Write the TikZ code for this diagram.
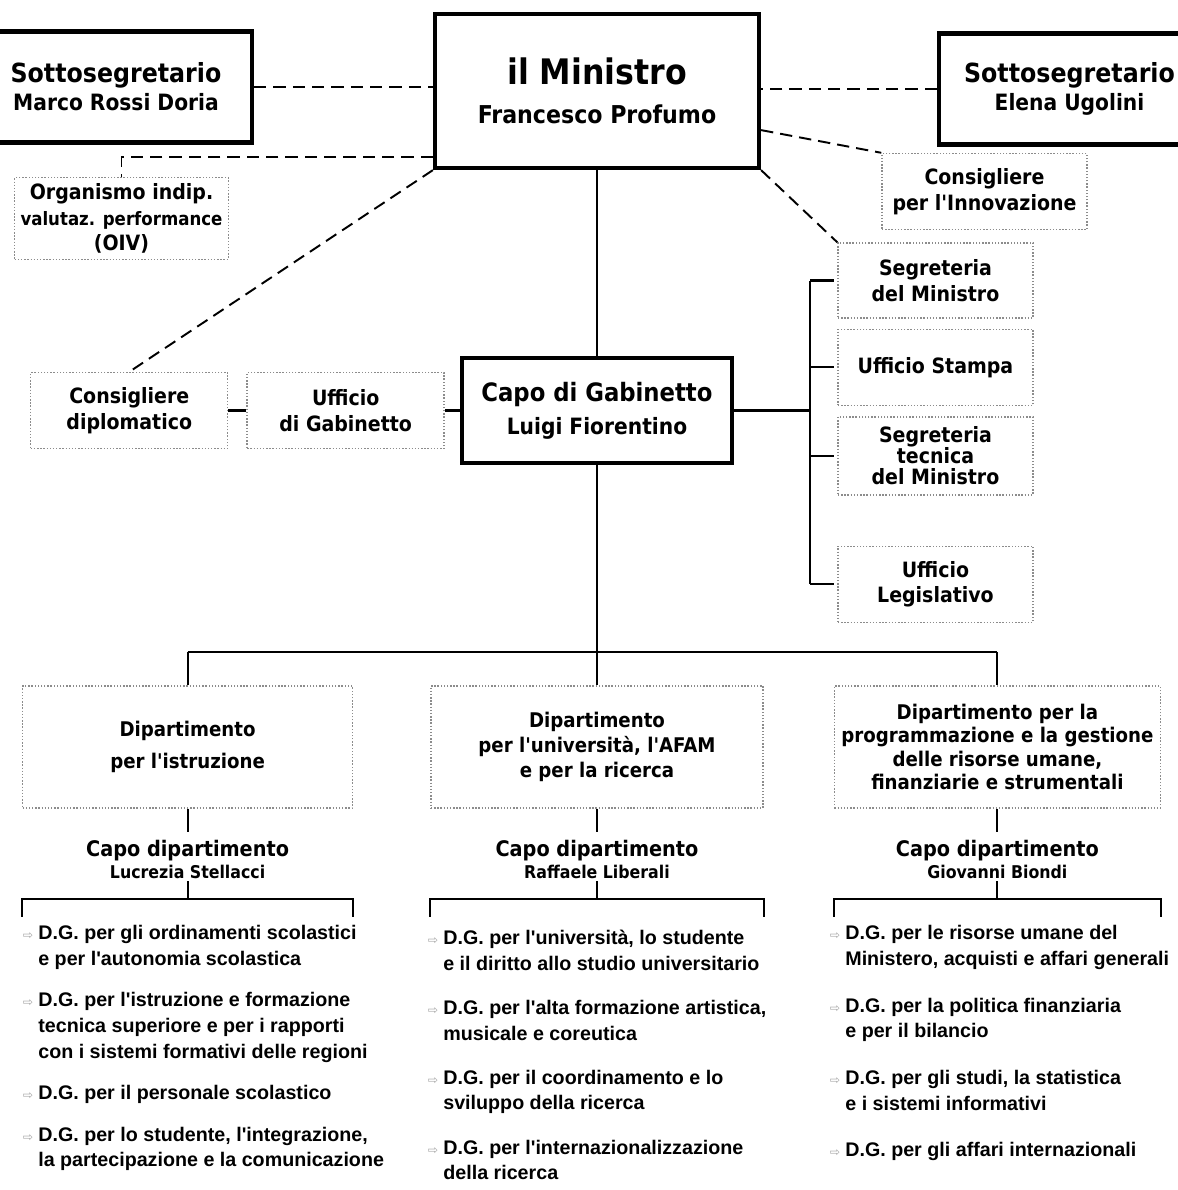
\documentclass[tikz,border=0pt]{standalone}
\usepackage{fontspec}
\usepackage{tikz}
\usetikzlibrary{positioning,shapes,arrows,calc}
\newfontfamily\orgfont{DejaVu Sans Condensed Bold}
\newfontfamily\dgfont{Liberation Sans Bold}
\newfontfamily\symfont{DejaVu Sans}
\newcommand{\fsz}[2]{\fontsize{#1}{#2}\selectfont}
\newcommand{\dgb}{\llap{{\symfont\color{black!35}\fsz{7}{7}⇨}\hspace{3pt}}}

\tikzstyle{chief} = [rectangle, minimum width=5.4cm, minimum height=2.22cm, align=center, draw=black, line width=2.4pt, font=\orgfont]
\tikzstyle{office} = [rectangle, minimum width=3.95cm, minimum height=1.52cm, align=center, draw=black!45, densely dotted, line width=0.8pt, font=\orgfont\fsz{12}{14.5}]
\tikzstyle{dept} = [office, minimum width=6.6cm, minimum height=2.44cm, font=\orgfont\fsz{11.5}{14}]
\tikzstyle{head} = [align=center, inner sep=1pt, font=\orgfont\fsz{12.2}{13}]
\tikzstyle{dglist} = [anchor=north west, align=left, inner sep=0pt, font=\dgfont\fsz{11.2}{14.6}]
\tikzstyle{link} = [line width=1.1pt, dash pattern=on 7pt off 4pt]
\tikzstyle{wire} = [line width=1.2pt]

\begin{document}
\begin{tikzpicture}[]
\useasboundingbox (0,0) rectangle (23.56,-23.8);

% top row
\node (min) [chief, minimum width=6.48cm, minimum height=3.08cm] at (11.94,-1.82) {{\fsz{20}{22}il Ministro}\\[10pt]{\fsz{14}{16}Francesco Profumo}};
\node (sotl) [chief, minimum width=5.44cm] at (2.32,-1.74) {{\fsz{15}{17}Sottosegretario}\\[2pt]{\fsz{12.8}{14}Marco Rossi Doria}};
\node (sotr) [chief, minimum width=5.22cm] at (21.39,-1.78) {{\fsz{15}{17}Sottosegretario}\\[2pt]{\fsz{12.8}{14}Elena Ugolini}};

\node (oiv) [office, minimum width=4.02cm] at (2.43,-4.37) {{\fsz{12}{12}Organismo indip.}\\{\fsz{10.5}{11}valutaz. performance}\\{\fsz{12}{11}(OIV)}};
\node (cinn) [office, minimum width=4.1cm] at (19.69,-3.83) {Consigliere\\per l'Innovazione};

% staff offices
\node (sdm) [office, minimum width=3.9cm, minimum height=1.5cm] at (18.71,-5.61) {Segreteria\\del Ministro};
\node (ust) [office, minimum width=3.9cm, below=0.2cm of sdm] {Ufficio Stampa};
\node (stm) [office, minimum width=3.9cm, minimum height=1.56cm, below=0.2cm of ust, font=\orgfont\fsz{12}{12}] {Segreteria\\tecnica\\del Ministro};
\node (uleg) [office, minimum width=3.9cm, below=1.0cm of stm] {Ufficio\\Legislativo};

\node (capo) [chief, minimum height=2.1cm] at (11.94,-8.21) {{\fsz{14.4}{16}Capo di Gabinetto}\\[5pt]{\fsz{12.8}{14}Luigi Fiorentino}};
\node (ugab) [office, minimum width=3.94cm, left=0.3cm of capo] {Ufficio\\di Gabinetto};
\node (cdip) [office, minimum width=3.94cm, left=0.36cm of ugab] {Consigliere\\diplomatico};

% departments
\node (d2) [dept, minimum width=6.64cm] at (11.94,-14.94) {Dipartimento\\per l'università, l'AFAM\\e per la ricerca};
\node (d1) [dept, left=1.54cm of d2] {Dipartimento\\[4pt]per l'istruzione};
\node (d3) [dept, minimum width=6.52cm, right=1.4cm of d2, font=\orgfont\fsz{11.5}{13.4}] {Dipartimento per la\\programmazione e la gestione\\delle risorse umane,\\finanziarie e strumentali};

\node (c1) [head, below=0.58cm of d1] {Capo dipartimento\\{\fsz{10}{11}Lucrezia Stellacci}};
\node (c2) [head, below=0.58cm of d2] {Capo dipartimento\\{\fsz{10}{11}Raffaele Liberali}};
\node (c3) [head, below=0.58cm of d3] {Capo dipartimento\\{\fsz{10}{11}Giovanni Biondi}};

\node (g1) [dglist] at (0.76,-18.5) {\dgb D.G. per gli ordinamenti scolastici\\e per l'autonomia scolastica\\[9pt]\dgb D.G. per l'istruzione e formazione\\tecnica superiore e per i rapporti\\con i sistemi formativi delle regioni\\[9pt]\dgb D.G. per il personale scolastico\\[9pt]\dgb D.G. per lo studente, l'integrazione,\\la partecipazione e la comunicazione};
\node (g2) [dglist] at (8.86,-18.6) {\dgb D.G. per l'università, lo studente\\e il diritto allo studio universitario\\[10.5pt]\dgb D.G. per l'alta formazione artistica,\\musicale e coreutica\\[10.5pt]\dgb D.G. per il coordinamento e lo\\sviluppo della ricerca\\[10.5pt]\dgb D.G. per l'internazionalizzazione\\della ricerca};
\node (g3) [dglist] at (16.9,-18.5) {\dgb D.G. per le risorse umane del\\Ministero, acquisti e affari generali\\[12pt]\dgb D.G. per la politica finanziaria\\e per il bilancio\\[12pt]\dgb D.G. per gli studi, la statistica\\e i sistemi informativi\\[12pt]\dgb D.G. per gli affari internazionali};

% dashed links from the minister
\draw [link] (sotl.east) -- (sotl.east -| min.west);
\draw [link] (sotr.west) -- (sotr.west -| min.east);
\draw [link] ([yshift=0.26cm]min.south west) -| (oiv.north);
\draw [link] ([yshift=0.8cm]min.south east) -- (cinn.north west);
\draw [link] (min.south east) -- (sdm.north west);
\draw [link] (min.south west) -- (cdip.north);

\draw [wire] (min) -- (capo);
\draw [wire] (capo) -- (ugab);
\draw [wire] (ugab) -- (cdip);

\coordinate (bus) at (16.2,-8.21);
\draw [wire] (capo) -- (bus);
\draw [wire] (sdm.west -| bus) -- (uleg.west -| bus);
\foreach \n in {sdm,ust,stm,uleg} \draw [wire] (\n.west -| bus) -- ([xshift=-2pt]\n.west);

\coordinate (split) at (11.94,-13.04);
\draw [wire] (capo) -- (split);
\draw [wire] (d1.north |- split) -- (d3.north |- split);
\foreach \d in {d1,d2,d3} \draw [wire] (\d.north |- split) -- (\d.north);

\foreach \d/\c in {d1/c1,d2/c2,d3/c3} {
  \draw [wire] (\d.south) -- ([yshift=3pt]\c.north);
  \draw [wire] (\c.south) -- ++(0,-0.36) coordinate (j);
  \draw [wire] ($(\d.west |- j)+(0,-0.35)$) |- (j) -| ($(\d.east |- j)+(0,-0.35)$);
}

\end{tikzpicture}
\end{document}
